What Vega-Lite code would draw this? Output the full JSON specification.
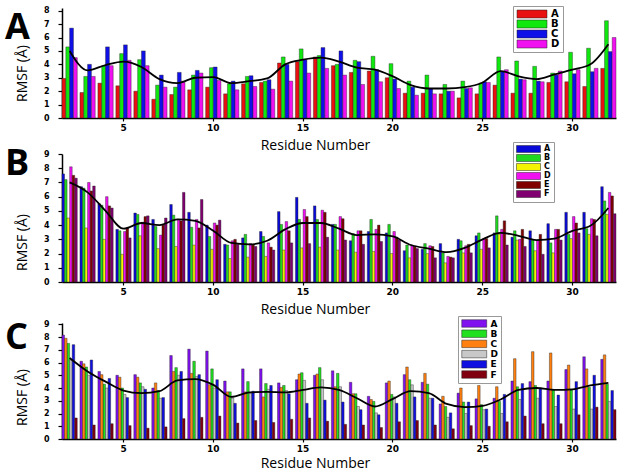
{
"$schema": "https://vega.github.io/schema/vega-lite/v6.json",
"background": "white",
"padding": 5,
"spacing": -11,
"resolve": {"scale": {"color": "independent", "xOffset": "independent", "x": "independent", "y": "independent"}, "legend": {"color": "independent"}},
"config": {
  "view": {"stroke": null},
  "axis": {"domainColor": "black", "domainWidth": 1.5, "tickColor": "black", "tickWidth": 1.2, "grid": false, "labelOverlap": false,
    "labelFont": "DejaVu Sans", "labelFontWeight": "bold", "labelColor": "black",
    "titleFont": "Open Sans", "titleFontWeight": "normal", "titleFontSize": 14, "titleColor": "black"},
  "axisX": {"tickSize": 3, "labelPadding": 2, "labelFontSize": 9, "labelAngle": 0, "titleX": 253, "titleBaseline": "alphabetic", "titleAlign": "center"},
  "axisY": {"tickSize": 4, "labelPadding": 9, "labelFontSize": 8, "titleX": -36, "titleBaseline": "alphabetic", "titleAlign": "center", "titleAngle": 270},
  "legend": {"orient": "none", "title": null, "padding": 3, "strokeColor": "#999", "fillColor": "white", "symbolStrokeColor": "#222", "symbolStrokeWidth": 0.5, "labelFont": "DejaVu Sans", "labelFontWeight": "bold", "labelColor": "black"},
  "title": {"anchor": "start", "frame": "group", "orient": "top", "baseline": "top", "fontSize": 36, "font": "Open Sans", "fontWeight": "bold", "color": "black", "dx": -57, "offset": -41}
},
"datasets": {
  "a": [
    {"r":2,"s":"A","v":2.95},{"r":2,"s":"B","v":5.3},{"r":2,"s":"C","v":6.7},{"r":2,"s":"D","v":4.5},
    {"r":3,"s":"A","v":1.9},{"r":3,"s":"B","v":3.1},{"r":3,"s":"C","v":4.0},{"r":3,"s":"D","v":3.1},
    {"r":4,"s":"A","v":2.6},{"r":4,"s":"B","v":3.9},{"r":4,"s":"C","v":5.3},{"r":4,"s":"D","v":3.9},
    {"r":5,"s":"A","v":2.4},{"r":5,"s":"B","v":4.8},{"r":5,"s":"C","v":5.45},{"r":5,"s":"D","v":4.3},
    {"r":6,"s":"A","v":2.0},{"r":6,"s":"B","v":4.35},{"r":6,"s":"C","v":5.0},{"r":6,"s":"D","v":3.9},
    {"r":7,"s":"A","v":1.4},{"r":7,"s":"B","v":2.45},{"r":7,"s":"C","v":3.2},{"r":7,"s":"D","v":2.3},
    {"r":8,"s":"A","v":1.75},{"r":8,"s":"B","v":2.3},{"r":8,"s":"C","v":3.4},{"r":8,"s":"D","v":2.75},
    {"r":9,"s":"A","v":2.1},{"r":9,"s":"B","v":3.2},{"r":9,"s":"C","v":3.55},{"r":9,"s":"D","v":3.35},
    {"r":10,"s":"A","v":2.3},{"r":10,"s":"B","v":3.75},{"r":10,"s":"C","v":3.8},{"r":10,"s":"D","v":2.8},
    {"r":11,"s":"A","v":1.8},{"r":11,"s":"B","v":2.55},{"r":11,"s":"C","v":2.75},{"r":11,"s":"D","v":2.1},
    {"r":12,"s":"A","v":2.55},{"r":12,"s":"B","v":3.1},{"r":12,"s":"C","v":3.15},{"r":12,"s":"D","v":2.35},
    {"r":13,"s":"A","v":2.65},{"r":13,"s":"B","v":2.75},{"r":13,"s":"C","v":2.85},{"r":13,"s":"D","v":2.15},
    {"r":14,"s":"A","v":4.1},{"r":14,"s":"B","v":4.55},{"r":14,"s":"C","v":4.0},{"r":14,"s":"D","v":2.75},
    {"r":15,"s":"A","v":4.2},{"r":15,"s":"B","v":5.15},{"r":15,"s":"C","v":4.35},{"r":15,"s":"D","v":3.35},
    {"r":16,"s":"A","v":4.55},{"r":16,"s":"B","v":4.65},{"r":16,"s":"C","v":5.25},{"r":16,"s":"D","v":3.7},
    {"r":17,"s":"A","v":3.9},{"r":17,"s":"B","v":4.0},{"r":17,"s":"C","v":5.0},{"r":17,"s":"D","v":3.2},
    {"r":18,"s":"A","v":3.4},{"r":18,"s":"B","v":4.3},{"r":18,"s":"C","v":4.2},{"r":18,"s":"D","v":2.5},
    {"r":19,"s":"A","v":3.5},{"r":19,"s":"B","v":4.6},{"r":19,"s":"C","v":3.6},{"r":19,"s":"D","v":2.7},
    {"r":20,"s":"A","v":3.0},{"r":20,"s":"B","v":4.05},{"r":20,"s":"C","v":2.9},{"r":20,"s":"D","v":2.2},
    {"r":21,"s":"A","v":1.85},{"r":21,"s":"B","v":2.75},{"r":21,"s":"C","v":2.3},{"r":21,"s":"D","v":1.7},
    {"r":22,"s":"A","v":1.85},{"r":22,"s":"B","v":3.2},{"r":22,"s":"C","v":2.2},{"r":22,"s":"D","v":1.8},
    {"r":23,"s":"A","v":1.8},{"r":23,"s":"B","v":2.5},{"r":23,"s":"C","v":2.0},{"r":23,"s":"D","v":2.0},
    {"r":24,"s":"A","v":1.5},{"r":24,"s":"B","v":2.75},{"r":24,"s":"C","v":2.2},{"r":24,"s":"D","v":2.25},
    {"r":25,"s":"A","v":1.8},{"r":25,"s":"B","v":2.6},{"r":25,"s":"C","v":2.7},{"r":25,"s":"D","v":2.65},
    {"r":26,"s":"A","v":2.45},{"r":26,"s":"B","v":4.55},{"r":26,"s":"C","v":3.5},{"r":26,"s":"D","v":3.6},
    {"r":27,"s":"A","v":1.85},{"r":27,"s":"B","v":4.25},{"r":27,"s":"C","v":2.9},{"r":27,"s":"D","v":2.85},
    {"r":28,"s":"A","v":1.85},{"r":28,"s":"B","v":3.85},{"r":28,"s":"C","v":2.75},{"r":28,"s":"D","v":2.7},
    {"r":29,"s":"A","v":2.65},{"r":29,"s":"B","v":3.35},{"r":29,"s":"C","v":3.2},{"r":29,"s":"D","v":3.5},
    {"r":30,"s":"A","v":2.7},{"r":30,"s":"B","v":4.9},{"r":30,"s":"C","v":3.3},{"r":30,"s":"D","v":3.6},
    {"r":31,"s":"A","v":2.35},{"r":31,"s":"B","v":5.2},{"r":31,"s":"C","v":3.45},{"r":31,"s":"D","v":3.7},
    {"r":32,"s":"A","v":3.7},{"r":32,"s":"B","v":7.25},{"r":32,"s":"C","v":4.95},{"r":32,"s":"D","v":6.0}
  ],
  "fa": [
    {"r":2,"v":5.0},{"r":3,"v":3.55},{"r":4,"v":3.95},{"r":5,"v":4.2},{"r":6,"v":3.8},{"r":7,"v":2.9},{"r":8,"v":2.6},{"r":9,"v":3.0},{"r":10,"v":3.05},{"r":11,"v":2.6},{"r":12,"v":2.75},{"r":13,"v":2.95},{"r":14,"v":4.0},{"r":15,"v":4.35},{"r":16,"v":4.5},{"r":17,"v":4.2},{"r":18,"v":3.75},{"r":19,"v":3.6},{"r":20,"v":3.1},{"r":21,"v":2.45},{"r":22,"v":2.2},{"r":23,"v":2.2},{"r":24,"v":2.3},{"r":25,"v":2.65},{"r":26,"v":3.5},{"r":27,"v":3.1},{"r":28,"v":2.9},{"r":29,"v":3.25},{"r":30,"v":3.6},{"r":31,"v":4.0},{"r":32,"v":5.5}
  ],
  "b": [
    {"r":2,"s":"A","v":7.6},{"r":2,"s":"B","v":7.2},{"r":2,"s":"C","v":4.5},{"r":2,"s":"D","v":8.1},{"r":2,"s":"E","v":7.5},{"r":2,"s":"F","v":7.3},
    {"r":3,"s":"A","v":6.7},{"r":3,"s":"B","v":6.6},{"r":3,"s":"C","v":3.8},{"r":3,"s":"D","v":7.0},{"r":3,"s":"E","v":6.4},{"r":3,"s":"F","v":6.75},
    {"r":4,"s":"A","v":5.5},{"r":4,"s":"B","v":5.4},{"r":4,"s":"C","v":3.0},{"r":4,"s":"D","v":6.0},{"r":4,"s":"E","v":5.35},{"r":4,"s":"F","v":5.2},
    {"r":5,"s":"A","v":3.7},{"r":5,"s":"B","v":3.6},{"r":5,"s":"C","v":1.95},{"r":5,"s":"D","v":3.55},{"r":5,"s":"E","v":3.8},{"r":5,"s":"F","v":3.1},
    {"r":6,"s":"A","v":4.85},{"r":6,"s":"B","v":4.75},{"r":6,"s":"C","v":3.25},{"r":6,"s":"D","v":4.2},{"r":6,"s":"E","v":4.6},{"r":6,"s":"F","v":4.65},
    {"r":7,"s":"A","v":4.4},{"r":7,"s":"B","v":3.9},{"r":7,"s":"C","v":2.35},{"r":7,"s":"D","v":3.3},{"r":7,"s":"E","v":4.0},{"r":7,"s":"F","v":4.5},
    {"r":8,"s":"A","v":5.45},{"r":8,"s":"B","v":4.7},{"r":8,"s":"C","v":2.5},{"r":8,"s":"D","v":4.4},{"r":8,"s":"E","v":4.3},{"r":8,"s":"F","v":6.3},
    {"r":9,"s":"A","v":4.9},{"r":9,"s":"B","v":3.85},{"r":9,"s":"C","v":2.6},{"r":9,"s":"D","v":4.4},{"r":9,"s":"E","v":3.8},{"r":9,"s":"F","v":5.8},
    {"r":10,"s":"A","v":4.0},{"r":10,"s":"B","v":3.2},{"r":10,"s":"C","v":2.3},{"r":10,"s":"D","v":4.15},{"r":10,"s":"E","v":4.0},{"r":10,"s":"F","v":4.35},
    {"r":11,"s":"A","v":2.65},{"r":11,"s":"B","v":2.6},{"r":11,"s":"C","v":1.65},{"r":11,"s":"D","v":2.9},{"r":11,"s":"E","v":3.0},{"r":11,"s":"F","v":2.65},
    {"r":12,"s":"A","v":3.1},{"r":12,"s":"B","v":3.35},{"r":12,"s":"C","v":1.75},{"r":12,"s":"D","v":2.7},{"r":12,"s":"E","v":2.6},{"r":12,"s":"F","v":2.5},
    {"r":13,"s":"A","v":3.55},{"r":13,"s":"B","v":3.2},{"r":13,"s":"C","v":1.8},{"r":13,"s":"D","v":2.75},{"r":13,"s":"E","v":2.45},{"r":13,"s":"F","v":2.25},
    {"r":14,"s":"A","v":4.95},{"r":14,"s":"B","v":4.05},{"r":14,"s":"C","v":2.25},{"r":14,"s":"D","v":4.25},{"r":14,"s":"E","v":3.6},{"r":14,"s":"F","v":2.75},
    {"r":15,"s":"A","v":5.95},{"r":15,"s":"B","v":4.4},{"r":15,"s":"C","v":2.4},{"r":15,"s":"D","v":5.1},{"r":15,"s":"E","v":4.6},{"r":15,"s":"F","v":2.7},
    {"r":16,"s":"A","v":5.35},{"r":16,"s":"B","v":4.4},{"r":16,"s":"C","v":2.45},{"r":16,"s":"D","v":5.05},{"r":16,"s":"E","v":4.9},{"r":16,"s":"F","v":3.15},
    {"r":17,"s":"A","v":4.05},{"r":17,"s":"B","v":4.05},{"r":17,"s":"C","v":2.25},{"r":17,"s":"D","v":4.6},{"r":17,"s":"E","v":4.45},{"r":17,"s":"F","v":2.95},
    {"r":18,"s":"A","v":2.9},{"r":18,"s":"B","v":3.4},{"r":18,"s":"C","v":2.1},{"r":18,"s":"D","v":3.6},{"r":18,"s":"E","v":3.6},{"r":18,"s":"F","v":2.65},
    {"r":19,"s":"A","v":3.55},{"r":19,"s":"B","v":4.4},{"r":19,"s":"C","v":2.15},{"r":19,"s":"D","v":3.7},{"r":19,"s":"E","v":4.0},{"r":19,"s":"F","v":2.85},
    {"r":20,"s":"A","v":3.45},{"r":20,"s":"B","v":4.05},{"r":20,"s":"C","v":2.0},{"r":20,"s":"D","v":3.55},{"r":20,"s":"E","v":3.15},{"r":20,"s":"F","v":2.95},
    {"r":21,"s":"A","v":2.2},{"r":21,"s":"B","v":2.6},{"r":21,"s":"C","v":1.7},{"r":21,"s":"D","v":2.6},{"r":21,"s":"E","v":2.5},{"r":21,"s":"F","v":2.35},
    {"r":22,"s":"A","v":2.3},{"r":22,"s":"B","v":2.7},{"r":22,"s":"C","v":2.0},{"r":22,"s":"D","v":2.55},{"r":22,"s":"E","v":2.5},{"r":22,"s":"F","v":1.7},
    {"r":23,"s":"A","v":2.7},{"r":23,"s":"B","v":2.05},{"r":23,"s":"C","v":1.35},{"r":23,"s":"D","v":1.8},{"r":23,"s":"E","v":1.75},{"r":23,"s":"F","v":1.7},
    {"r":24,"s":"A","v":3.0},{"r":24,"s":"B","v":2.9},{"r":24,"s":"C","v":2.05},{"r":24,"s":"D","v":2.55},{"r":24,"s":"E","v":2.65},{"r":24,"s":"F","v":2.05},
    {"r":25,"s":"A","v":3.25},{"r":25,"s":"B","v":3.45},{"r":25,"s":"C","v":2.3},{"r":25,"s":"D","v":3.05},{"r":25,"s":"E","v":3.05},{"r":25,"s":"F","v":2.4},
    {"r":26,"s":"A","v":3.45},{"r":26,"s":"B","v":4.65},{"r":26,"s":"C","v":3.35},{"r":26,"s":"D","v":3.7},{"r":26,"s":"E","v":4.3},{"r":26,"s":"F","v":2.6},
    {"r":27,"s":"A","v":3.15},{"r":27,"s":"B","v":3.6},{"r":27,"s":"C","v":2.95},{"r":27,"s":"D","v":3.0},{"r":27,"s":"E","v":3.7},{"r":27,"s":"F","v":2.5},
    {"r":28,"s":"A","v":3.6},{"r":28,"s":"B","v":2.95},{"r":28,"s":"C","v":2.2},{"r":28,"s":"D","v":2.95},{"r":28,"s":"E","v":3.35},{"r":28,"s":"F","v":1.95},
    {"r":29,"s":"A","v":4.1},{"r":29,"s":"B","v":2.75},{"r":29,"s":"C","v":2.05},{"r":29,"s":"D","v":3.7},{"r":29,"s":"E","v":3.7},{"r":29,"s":"F","v":2.95},
    {"r":30,"s":"A","v":4.9},{"r":30,"s":"B","v":3.35},{"r":30,"s":"C","v":3.05},{"r":30,"s":"D","v":4.6},{"r":30,"s":"E","v":4.15},{"r":30,"s":"F","v":3.45},
    {"r":31,"s":"A","v":4.9},{"r":31,"s":"B","v":3.75},{"r":31,"s":"C","v":3.35},{"r":31,"s":"D","v":4.45},{"r":31,"s":"E","v":4.4},{"r":31,"s":"F","v":3.25},
    {"r":32,"s":"A","v":6.7},{"r":32,"s":"B","v":5.7},{"r":32,"s":"C","v":4.75},{"r":32,"s":"D","v":6.3},{"r":32,"s":"E","v":6.05},{"r":32,"s":"F","v":4.8}
  ],
  "fb": [
    {"r":2,"v":7.0},{"r":3,"v":6.3},{"r":4,"v":5.0},{"r":5,"v":3.75},{"r":6,"v":4.15},{"r":7,"v":4.0},{"r":8,"v":4.4},{"r":9,"v":4.3},{"r":10,"v":3.6},{"r":11,"v":2.75},{"r":12,"v":2.65},{"r":13,"v":2.9},{"r":14,"v":3.7},{"r":15,"v":4.15},{"r":16,"v":4.15},{"r":17,"v":3.75},{"r":18,"v":3.3},{"r":19,"v":3.35},{"r":20,"v":3.2},{"r":21,"v":2.6},{"r":22,"v":2.35},{"r":23,"v":2.1},{"r":24,"v":2.4},{"r":25,"v":3.0},{"r":26,"v":3.45},{"r":27,"v":3.25},{"r":28,"v":2.95},{"r":29,"v":3.05},{"r":30,"v":3.6},{"r":31,"v":3.95},{"r":32,"v":5.2}
  ],
  "c": [
    {"r":2,"s":"A","v":8.15},{"r":2,"s":"B","v":7.5},{"r":2,"s":"C","v":7.9},{"r":2,"s":"D","v":6.2},{"r":2,"s":"E","v":7.4},{"r":2,"s":"F","v":1.65},
    {"r":3,"s":"A","v":6.1},{"r":3,"s":"B","v":5.65},{"r":3,"s":"C","v":5.9},{"r":3,"s":"D","v":5.0},{"r":3,"s":"E","v":6.2},{"r":3,"s":"F","v":1.1},
    {"r":4,"s":"A","v":5.3},{"r":4,"s":"B","v":4.3},{"r":4,"s":"C","v":5.05},{"r":4,"s":"D","v":4.0},{"r":4,"s":"E","v":4.75},{"r":4,"s":"F","v":1.2},
    {"r":5,"s":"A","v":5.0},{"r":5,"s":"B","v":4.0},{"r":5,"s":"C","v":4.85},{"r":5,"s":"D","v":3.5},{"r":5,"s":"E","v":3.25},{"r":5,"s":"F","v":1.05},
    {"r":6,"s":"A","v":5.05},{"r":6,"s":"B","v":4.4},{"r":6,"s":"C","v":4.85},{"r":6,"s":"D","v":4.1},{"r":6,"s":"E","v":3.9},{"r":6,"s":"F","v":0.85},
    {"r":7,"s":"A","v":4.0},{"r":7,"s":"B","v":3.8},{"r":7,"s":"C","v":4.4},{"r":7,"s":"D","v":3.2},{"r":7,"s":"E","v":3.25},{"r":7,"s":"F","v":0.95},
    {"r":8,"s":"A","v":6.55},{"r":8,"s":"B","v":5.6},{"r":8,"s":"C","v":5.3},{"r":8,"s":"D","v":5.0},{"r":8,"s":"E","v":5.3},{"r":8,"s":"F","v":1.6},
    {"r":9,"s":"A","v":7.05},{"r":9,"s":"B","v":6.1},{"r":9,"s":"C","v":5.15},{"r":9,"s":"D","v":4.9},{"r":9,"s":"E","v":5.05},{"r":9,"s":"F","v":1.7},
    {"r":10,"s":"A","v":6.9},{"r":10,"s":"B","v":5.5},{"r":10,"s":"C","v":4.25},{"r":10,"s":"D","v":4.0},{"r":10,"s":"E","v":4.65},{"r":10,"s":"F","v":1.8},
    {"r":11,"s":"A","v":4.55},{"r":11,"s":"B","v":3.7},{"r":11,"s":"C","v":3.7},{"r":11,"s":"D","v":3.2},{"r":11,"s":"E","v":2.8},{"r":11,"s":"F","v":1.25},
    {"r":12,"s":"A","v":5.5},{"r":12,"s":"B","v":4.5},{"r":12,"s":"C","v":3.7},{"r":12,"s":"D","v":3.6},{"r":12,"s":"E","v":3.75},{"r":12,"s":"F","v":1.45},
    {"r":13,"s":"A","v":5.5},{"r":13,"s":"B","v":4.35},{"r":13,"s":"C","v":3.3},{"r":13,"s":"D","v":3.9},{"r":13,"s":"E","v":4.2},{"r":13,"s":"F","v":1.3},
    {"r":14,"s":"A","v":4.4},{"r":14,"s":"B","v":4.2},{"r":14,"s":"C","v":4.05},{"r":14,"s":"D","v":3.8},{"r":14,"s":"E","v":3.55},{"r":14,"s":"F","v":1.55},
    {"r":15,"s":"A","v":4.65},{"r":15,"s":"B","v":5.2},{"r":15,"s":"C","v":5.1},{"r":15,"s":"D","v":4.6},{"r":15,"s":"E","v":2.8},{"r":15,"s":"F","v":1.65},
    {"r":16,"s":"A","v":5.0},{"r":16,"s":"B","v":5.6},{"r":16,"s":"C","v":5.1},{"r":16,"s":"D","v":4.65},{"r":16,"s":"E","v":3.05},{"r":16,"s":"F","v":1.4},
    {"r":17,"s":"A","v":5.35},{"r":17,"s":"B","v":5.15},{"r":17,"s":"C","v":4.1},{"r":17,"s":"D","v":4.1},{"r":17,"s":"E","v":2.9},{"r":17,"s":"F","v":1.15},
    {"r":18,"s":"A","v":4.45},{"r":18,"s":"B","v":3.55},{"r":18,"s":"C","v":3.55},{"r":18,"s":"D","v":2.55},{"r":18,"s":"E","v":2.3},{"r":18,"s":"F","v":1.1},
    {"r":19,"s":"A","v":3.35},{"r":19,"s":"B","v":2.95},{"r":19,"s":"C","v":3.1},{"r":19,"s":"D","v":2.05},{"r":19,"s":"E","v":1.9},{"r":19,"s":"F","v":0.9},
    {"r":20,"s":"A","v":4.4},{"r":20,"s":"B","v":3.5},{"r":20,"s":"C","v":4.55},{"r":20,"s":"D","v":3.3},{"r":20,"s":"E","v":2.8},{"r":20,"s":"F","v":1.35},
    {"r":21,"s":"A","v":5.05},{"r":21,"s":"B","v":4.65},{"r":21,"s":"C","v":5.65},{"r":21,"s":"D","v":4.25},{"r":21,"s":"E","v":3.3},{"r":21,"s":"F","v":1.45},
    {"r":22,"s":"A","v":4.45},{"r":22,"s":"B","v":4.3},{"r":22,"s":"C","v":5.15},{"r":22,"s":"D","v":3.2},{"r":22,"s":"E","v":3.2},{"r":22,"s":"F","v":1.1},
    {"r":23,"s":"A","v":2.75},{"r":23,"s":"B","v":2.55},{"r":23,"s":"C","v":3.35},{"r":23,"s":"D","v":1.7},{"r":23,"s":"E","v":2.05},{"r":23,"s":"F","v":0.8},
    {"r":24,"s":"A","v":3.6},{"r":24,"s":"B","v":2.9},{"r":24,"s":"C","v":4.0},{"r":24,"s":"D","v":2.0},{"r":24,"s":"E","v":2.9},{"r":24,"s":"F","v":1.05},
    {"r":25,"s":"A","v":3.15},{"r":25,"s":"B","v":2.7},{"r":25,"s":"C","v":4.2},{"r":25,"s":"D","v":2.3},{"r":25,"s":"E","v":2.35},{"r":25,"s":"F","v":1.0},
    {"r":26,"s":"A","v":3.2},{"r":26,"s":"B","v":2.95},{"r":26,"s":"C","v":4.1},{"r":26,"s":"D","v":2.0},{"r":26,"s":"E","v":3.5},{"r":26,"s":"F","v":1.35},
    {"r":27,"s":"A","v":4.55},{"r":27,"s":"B","v":4.1},{"r":27,"s":"C","v":6.3},{"r":27,"s":"D","v":3.1},{"r":27,"s":"E","v":4.35},{"r":27,"s":"F","v":1.8},
    {"r":28,"s":"A","v":4.5},{"r":28,"s":"B","v":4.2},{"r":28,"s":"C","v":6.85},{"r":28,"s":"D","v":3.2},{"r":28,"s":"E","v":4.0},{"r":28,"s":"F","v":1.2},
    {"r":29,"s":"A","v":4.55},{"r":29,"s":"B","v":3.85},{"r":29,"s":"C","v":6.75},{"r":29,"s":"D","v":2.55},{"r":29,"s":"E","v":3.45},{"r":29,"s":"F","v":1.2},
    {"r":30,"s":"A","v":5.45},{"r":30,"s":"B","v":3.85},{"r":30,"s":"C","v":5.8},{"r":30,"s":"D","v":2.35},{"r":30,"s":"E","v":4.5},{"r":30,"s":"F","v":1.9},
    {"r":31,"s":"A","v":6.45},{"r":31,"s":"B","v":4.05},{"r":31,"s":"C","v":5.5},{"r":31,"s":"D","v":2.35},{"r":31,"s":"E","v":5.0},{"r":31,"s":"F","v":2.5},
    {"r":32,"s":"A","v":6.25},{"r":32,"s":"B","v":4.3},{"r":32,"s":"C","v":6.6},{"r":32,"s":"D","v":2.95},{"r":32,"s":"E","v":3.8},{"r":32,"s":"F","v":2.3}
  ],
  "fc": [
    {"r":2,"v":6.35},{"r":3,"v":5.3},{"r":4,"v":4.5},{"r":5,"v":3.8},{"r":6,"v":3.6},{"r":7,"v":3.75},{"r":8,"v":4.6},{"r":9,"v":4.7},{"r":10,"v":4.25},{"r":11,"v":3.3},{"r":12,"v":3.65},{"r":13,"v":3.7},{"r":14,"v":3.65},{"r":15,"v":3.85},{"r":16,"v":4.05},{"r":17,"v":3.85},{"r":18,"v":3.2},{"r":19,"v":2.55},{"r":20,"v":3.15},{"r":21,"v":3.75},{"r":22,"v":3.6},{"r":23,"v":2.75},{"r":24,"v":2.5},{"r":25,"v":2.6},{"r":26,"v":3.1},{"r":27,"v":3.85},{"r":28,"v":4.0},{"r":29,"v":3.85},{"r":30,"v":3.9},{"r":31,"v":4.2},{"r":32,"v":4.4}
  ]
},
"vconcat": [
  {
    "width": 554, "height": 110,
    "title": {"text": "A"},
    "encoding": {
      "x": {"field": "r", "type": "ordinal", "scale": {"domain": [2,3,4,5,6,7,8,9,10,11,12,13,14,15,16,17,18,19,20,21,22,23,24,25,26,27,28,29,30,31,32], "paddingInner": 0.15, "paddingOuter": 0},
            "axis": {"values": [5,10,15,20,25,30], "title": "Residue Number", "titleY": 31}},
      "y": {"field": "v", "type": "quantitative", "scale": {"domain": [0, 8.2], "nice": false},
            "axis": {"values": [0,1,2,3,4,5,6,7,8], "title": "RMSF (Å)", "titleY": 65}}
    },
    "layer": [
      {"data": {"name": "a"},
       "mark": {"type": "bar", "stroke": "#222", "strokeWidth": 0.4},
       "encoding": {
         "xOffset": {"field": "s", "type": "nominal", "scale": {"paddingInner": 0, "paddingOuter": 0}},
         "color": {"field": "s", "type": "nominal",
           "scale": {"domain": ["A","B","C","D"], "range": ["#e81010","#10e810","#1010e8","#f010f0"]},
           "legend": {"legendX": 451, "legendY": -2, "symbolType": "M-1,-1H6.5V1H-1Z", "symbolSize": 64, "labelOffset": 25, "labelFontSize": 10, "rowPadding": -0.8}}
       }},
      {"data": {"name": "fa"},
       "mark": {"type": "line", "color": "black", "strokeWidth": 1.8, "interpolate": "monotone"},
       "encoding": {}}
    ]
  },
  {
    "spacing": -1,
    "resolve": {"scale": {"color": "independent", "xOffset": "independent", "x": "independent", "y": "independent"}, "legend": {"color": "independent"}},
    "vconcat": [
      {
        "width": 554, "height": 128,
        "title": {"text": "B"},
        "encoding": {
          "x": {"field": "r", "type": "ordinal", "scale": {"domain": [2,3,4,5,6,7,8,9,10,11,12,13,14,15,16,17,18,19,20,21,22,23,24,25,26,27,28,29,30,31,32], "paddingInner": 0.15, "paddingOuter": 0},
                "axis": {"values": [5,10,15,20,25,30], "title": "Residue Number", "titleY": 31}},
          "y": {"field": "v", "type": "quantitative", "scale": {"domain": [0, 9], "nice": false},
                "axis": {"values": [0,1,2,3,4,5,6,7,8,9], "title": "RMSF (Å)", "titleY": 88}}
        },
        "layer": [
          {"data": {"name": "b"},
           "mark": {"type": "bar", "stroke": "#222", "strokeWidth": 0.4},
           "encoding": {
             "xOffset": {"field": "s", "type": "nominal", "scale": {"paddingInner": 0, "paddingOuter": 0}},
             "color": {"field": "s", "type": "nominal",
               "scale": {"domain": ["A","B","C","D","E","F"], "range": ["#0a0ad8","#20d820","#f4f400","#f010f0","#800000","#800070"]},
               "legend": {"legendX": 451, "legendY": -12, "symbolType": "M-1,-1H5.86V1H-1Z", "symbolSize": 49, "labelOffset": 20, "labelFontSize": 8, "rowPadding": -1}}
           }},
          {"data": {"name": "fb"},
           "mark": {"type": "line", "color": "black", "strokeWidth": 1.8, "interpolate": "monotone"},
           "encoding": {}}
        ]
      },
      {
        "width": 554, "height": 116,
        "title": {"text": "C"},
        "encoding": {
          "x": {"field": "r", "type": "ordinal", "scale": {"domain": [2,3,4,5,6,7,8,9,10,11,12,13,14,15,16,17,18,19,20,21,22,23,24,25,26,27,28,29,30,31,32], "paddingInner": 0.15, "paddingOuter": 0},
                "axis": {"values": [5,10,15,20,25,30], "title": "Residue Number", "titleY": 28}},
          "y": {"field": "v", "type": "quantitative", "scale": {"domain": [0, 9.1], "nice": false},
                "axis": {"values": [0,1,2,3,4,5,6,7,8,9], "title": "RMSF (Å)", "titleY": 74}}
        },
        "layer": [
          {"data": {"name": "c"},
           "mark": {"type": "bar", "stroke": "#222", "strokeWidth": 0.4},
           "encoding": {
             "xOffset": {"field": "s", "type": "nominal", "sort": ["A","C","B","D","E","F"], "scale": {"paddingInner": 0, "paddingOuter": 0}},
             "color": {"field": "s", "type": "nominal",
               "scale": {"domain": ["A","B","C","D","E","F"], "range": ["#8010f0","#20e020","#ff8010","#c8c8c8","#1010e0","#800010"]},
               "legend": {"legendX": 396, "legendY": -7, "symbolType": "M-1,-1H5.67V1H-1Z", "symbolSize": 56, "labelOffset": 20.5, "labelFontSize": 9, "rowPadding": -0.8}}
           }},
          {"data": {"name": "fc"},
           "mark": {"type": "line", "color": "black", "strokeWidth": 1.8, "interpolate": "monotone"},
           "encoding": {}}
        ]
      }
    ]
  }
]
}
